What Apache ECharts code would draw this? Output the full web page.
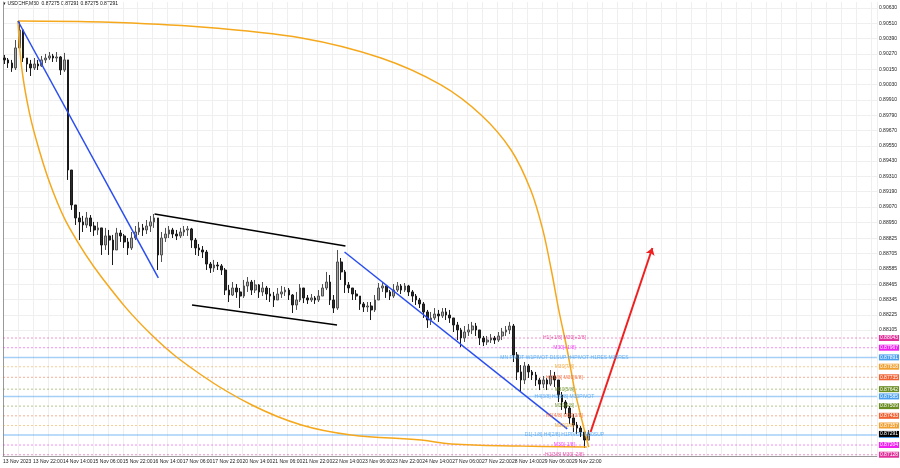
<!DOCTYPE html>
<html><head><meta charset="utf-8">
<script src="https://cdn.jsdelivr.net/npm/echarts@6/dist/echarts.min.js"></script>
<style>html,body{margin:0;padding:0;background:#fff}#c{width:900px;height:468px}</style>
</head><body><div id="c"></div><script>
// time labels every 32 M30 bars (16 hours)
const timeLabels = ['13 Nov 2023','13 Nov 22:00','14 Nov 14:00','15 Nov 06:00','15 Nov 22:00','16 Nov 14:00','17 Nov 06:00','17 Nov 22:00','20 Nov 14:00','21 Nov 06:00','21 Nov 22:00','22 Nov 14:00','23 Nov 06:00','23 Nov 22:00','24 Nov 14:00','27 Nov 06:00','27 Nov 22:00','28 Nov 14:00','29 Nov 06:00','29 Nov 22:00'];
const priceTicks = [0.90630,0.90510,0.90390,0.90270,0.90150,0.90030,0.89910,0.89790,0.89670,0.89550,0.89430,0.89310,0.89190,0.89070,0.88950,0.88825,0.88705,0.88585,0.88465,0.88345,0.88225,0.88105];

// 2-hour aggregated candles (4 M30 bars each)
const opens = [0.90238,0.90223,0.90199,0.90160,0.90317,0.90458,0.90238,0.90191,0.90160,0.90191,0.90176,0.90223,0.90238,0.90254,0.90238,0.90246,0.90144,0.90223,0.89360,0.89086,
0.88984,0.88953,0.88929,0.88984,0.88921,0.88890,0.88906,0.88772,0.88843,0.88811,0.88733,0.88866,0.88843,0.88796,0.88749,0.88827,0.88874,0.88906,0.88890,0.88921,
0.88953,0.88984,0.88694,0.88827,0.88858,0.88890,0.88858,0.88843,0.88874,0.88890,0.88898,0.88811,0.88749,0.88733,0.88717,0.88623,0.88592,0.88615,0.88608,0.88576,
0.88419,0.88380,0.88435,0.88404,0.88372,0.88451,0.88482,0.88419,0.88459,0.88404,0.88435,0.88388,0.88372,0.88341,0.88388,0.88404,0.88419,0.88380,0.88302,0.88341,
0.88435,0.88357,0.88341,0.88357,0.88341,0.88372,0.88435,0.88482,0.88341,0.88278,0.88639,0.88561,0.88459,0.88435,0.88388,0.88372,0.88310,0.88286,0.88294,0.88263,
0.88341,0.88435,0.88451,0.88404,0.88372,0.88419,0.88451,0.88419,0.88451,0.88404,0.88372,0.88341,0.88310,0.88247,0.88184,0.88200,0.88231,0.88216,0.88247,0.88223,
0.88200,0.88145,0.88106,0.88043,0.88090,0.88106,0.88137,0.88106,0.88043,0.88012,0.88027,0.88043,0.88027,0.88059,0.88090,0.88106,0.88137,0.87910,0.87777,0.87714,
0.87824,0.87777,0.87753,0.87714,0.87682,0.87714,0.87682,0.87745,0.87714,0.87596,0.87541,0.87494,0.87416,0.87361,0.87337,0.87306,0.87243];
const highs = [0.90262,0.90238,0.90223,0.90379,0.90528,0.90458,0.90238,0.90223,0.90238,0.90223,0.90254,0.90270,0.90285,0.90270,0.90285,0.90254,0.90278,0.90223,0.89360,0.89086,
0.89031,0.89000,0.89031,0.89007,0.88953,0.88953,0.88906,0.88906,0.88890,0.88851,0.88906,0.88890,0.88858,0.88827,0.88874,0.88921,0.88953,0.88937,0.88968,0.89000,
0.89015,0.88984,0.88874,0.88906,0.88921,0.88906,0.88890,0.88906,0.88921,0.88921,0.88906,0.88827,0.88780,0.88764,0.88733,0.88639,0.88655,0.88639,0.88623,0.88592,
0.88459,0.88482,0.88466,0.88435,0.88498,0.88521,0.88498,0.88498,0.88466,0.88482,0.88451,0.88435,0.88404,0.88435,0.88451,0.88443,0.88435,0.88388,0.88404,0.88466,
0.88419,0.88380,0.88388,0.88372,0.88419,0.88466,0.88561,0.88537,0.88380,0.88733,0.88670,0.88576,0.88482,0.88435,0.88419,0.88372,0.88325,0.88325,0.88325,0.88380,
0.88474,0.88482,0.88451,0.88419,0.88466,0.88482,0.88466,0.88474,0.88459,0.88419,0.88388,0.88357,0.88325,0.88263,0.88247,0.88278,0.88263,0.88278,0.88278,0.88263,
0.88200,0.88169,0.88122,0.88137,0.88153,0.88169,0.88161,0.88106,0.88059,0.88059,0.88074,0.88059,0.88090,0.88122,0.88137,0.88169,0.88153,0.87933,0.87831,0.87855,
0.87839,0.87792,0.87777,0.87730,0.87745,0.87730,0.87792,0.87777,0.87714,0.87620,0.87557,0.87510,0.87447,0.87385,0.87353,0.87322,0.87322];
const lows = [0.90191,0.90160,0.90129,0.90144,0.90317,0.90207,0.90129,0.90097,0.90144,0.90144,0.90168,0.90199,0.90223,0.90207,0.90207,0.90105,0.90129,0.89282,0.89047,0.88929,
0.88811,0.88874,0.88906,0.88874,0.88843,0.88851,0.88694,0.88733,0.88694,0.88615,0.88733,0.88796,0.88749,0.88694,0.88733,0.88811,0.88851,0.88843,0.88858,0.88874,
0.88906,0.88576,0.88639,0.88796,0.88827,0.88827,0.88811,0.88827,0.88843,0.88843,0.88749,0.88694,0.88686,0.88670,0.88576,0.88553,0.88561,0.88576,0.88537,0.88380,
0.88325,0.88372,0.88357,0.88278,0.88357,0.88404,0.88380,0.88396,0.88357,0.88372,0.88341,0.88325,0.88286,0.88341,0.88357,0.88372,0.88341,0.88239,0.88263,0.88325,
0.88317,0.88310,0.88325,0.88310,0.88325,0.88372,0.88419,0.88302,0.88239,0.88263,0.88498,0.88396,0.88396,0.88341,0.88341,0.88263,0.88247,0.88247,0.88184,0.88247,
0.88341,0.88404,0.88357,0.88341,0.88357,0.88404,0.88388,0.88404,0.88372,0.88325,0.88302,0.88278,0.88200,0.88122,0.88145,0.88184,0.88169,0.88200,0.88184,0.88161,
0.88090,0.88027,0.87972,0.88012,0.88059,0.88074,0.88059,0.87988,0.87980,0.87988,0.88004,0.87996,0.88012,0.88027,0.88059,0.88074,0.87855,0.87714,0.87620,0.87682,
0.87730,0.87714,0.87667,0.87635,0.87651,0.87635,0.87667,0.87659,0.87541,0.87479,0.87447,0.87369,0.87306,0.87290,0.87267,0.87181,0.87243];
const closes = [0.90223,0.90199,0.90160,0.90317,0.90458,0.90238,0.90191,0.90160,0.90191,0.90176,0.90223,0.90238,0.90254,0.90238,0.90246,0.90144,0.90223,0.89360,0.89086,0.88984,
0.88953,0.88929,0.88984,0.88921,0.88890,0.88906,0.88772,0.88843,0.88811,0.88733,0.88866,0.88843,0.88796,0.88749,0.88827,0.88874,0.88906,0.88890,0.88921,0.88953,
0.88984,0.88694,0.88827,0.88858,0.88890,0.88858,0.88843,0.88874,0.88890,0.88898,0.88811,0.88749,0.88733,0.88717,0.88623,0.88592,0.88615,0.88608,0.88576,0.88419,
0.88380,0.88435,0.88404,0.88372,0.88451,0.88482,0.88419,0.88459,0.88404,0.88435,0.88388,0.88372,0.88341,0.88388,0.88404,0.88419,0.88380,0.88302,0.88341,0.88435,
0.88357,0.88341,0.88357,0.88341,0.88372,0.88435,0.88482,0.88341,0.88278,0.88639,0.88561,0.88459,0.88435,0.88388,0.88372,0.88310,0.88286,0.88294,0.88263,0.88341,
0.88435,0.88451,0.88404,0.88372,0.88419,0.88451,0.88419,0.88451,0.88404,0.88372,0.88341,0.88310,0.88247,0.88184,0.88200,0.88231,0.88216,0.88247,0.88223,0.88200,
0.88145,0.88106,0.88043,0.88090,0.88106,0.88137,0.88106,0.88043,0.88012,0.88027,0.88043,0.88027,0.88059,0.88090,0.88106,0.88137,0.87910,0.87777,0.87714,0.87824,
0.87777,0.87753,0.87714,0.87682,0.87714,0.87682,0.87745,0.87714,0.87596,0.87541,0.87494,0.87416,0.87361,0.87337,0.87306,0.87243,0.87291];

// trend lines: [barIndex, price]
const blueLine1 = [[16, 0.90528], [166, 0.88514]];
const blueLine2 = [[365, 0.88717], [603, 0.87330]];
const blackUpper = [[162, 0.89015], [366, 0.88764]];
const blackLower = [[202, 0.88302], [357, 0.88145]];
const redArrow = [[628, 0.87306], [694, 0.88749]];
// Fibonacci arcs (sampled points)
const arcOuter = [[16,0.90528],[106,0.90520],[212,0.90481],[319,0.90395],[404,0.90238],[468,0.90027],[511,0.89791],[543,0.89517],[564,0.89203],[577,0.88889],[586,0.88576],[594,0.88262],[603,0.87949],[611,0.87635],[620,0.87361],[626,0.87188]];
const arcInner = [[16,0.90528],[20,0.90160],[28,0.89815],[38,0.89533],[52,0.89219],[71,0.88906],[106,0.88513],[159,0.88066],[212,0.87753],[266,0.87518],[319,0.87361],[372,0.87283],[447,0.87243],[479,0.87212],[554,0.87196],[624,0.87188]];

// Murrey levels
const levelPrices = [0.88043,0.87967,0.87891,0.87818,0.87735,0.87642,0.87585,0.87509,0.87433,0.87357,0.87283,0.87204,0.87128];
const levelNames = ['H1[+1/8] M30[+2/8]','M30[+1/8]','MN PIVOT W1PIVOT D1SUP H4PIVOT H1RES M30RES','M30[7/8]','H1[6/8] M30[6/8]','M30[5/8]','H4[3/8] H1[3/8] M30PIVOT','M30[4/8]','H1[4/8] M30[3/8]','M30[2/8]','D1[-1/8] H4[2/8] H1PIVOT M30SUP','M30[-1/8]','H1[3/8] M30[-2/8]'];
const levelColors = ['#e0309a','#f020f0','#4aa0f0','#f0a030','#f06030','#6b8e23','#4aa0f0','#6b8e23','#f06030','#f0a030','#4aa0f0','#f020f0','#e0309a'];
const levelSolid = [false,false,true,false,false,false,true,false,false,false,true,false,false];
const currentPrice = 0.87291;
const textBarIndex = 600;
const X_MAX = 934;

const FONT = 'Liberation Sans';
const candleData = opens.map((o, k) => [4 * k + 1.5, o, closes[k], lows[k], highs[k]]);

const lineSeries = (data, color, width, extra) => Object.assign({
  type: 'line', data, symbol: 'none', silent: true, animation: false,
  lineStyle: { color, width }, z: 5
}, extra || {});

const boxLabel = (text, bg) => ({
  show: true, distance: 2, formatter: text, color: '#fff', backgroundColor: bg,
  padding: [0, 1], fontSize: 5, fontFamily: FONT, lineHeight: 6
});

const levelSeries = levelPrices.map((p, i) => ({
  type: 'line', data: [[0, p], [X_MAX, p]], symbol: 'none', silent: true, z: 2,
  lineStyle: { color: levelColors[i], width: levelSolid[i] ? 1.5 : 1, type: levelSolid[i] ? 'solid' : [2, 2], opacity: levelSolid[i] ? 0.5 : 0.5 },
  endLabel: boxLabel(p.toFixed(5), levelColors[i])
}));
levelSeries.push({
  type: 'line', data: [[0, currentPrice], [X_MAX, currentPrice]], symbol: 'none', silent: true, z: 2,
  lineStyle: { opacity: 0 },
  endLabel: boxLabel(currentPrice.toFixed(5), '#000')
});

const levelTexts = levelPrices.map((p, i) => ({
  value: [textBarIndex, p],
  label: { show: true, position: 'inside', formatter: levelNames[i], color: levelColors[i], fontSize: 5, fontFamily: FONT }
}));

const chart = echarts.init(document.getElementById('c'), null, { renderer: 'canvas' });
chart.setOption({
  animation: false,
  backgroundColor: '#fff',
  grid: { left: 1, right: 23, top: 2, bottom: 12 },
  xAxis: {
    type: 'value', min: 0, max: X_MAX, interval: 16,
    axisLine: { show: true, lineStyle: { color: '#999' } },
    axisTick: { show: false },
    axisLabel: { align: 'left', margin: 3, fontSize: 5, color: '#222', fontFamily: FONT, showMaxLabel: false, interval: 0,
      formatter: v => { if (v % 32 !== 0) return ''; return timeLabels[v / 32] || ''; } },
    splitLine: { show: true, lineStyle: { color: '#efefef', width: 1 } }
  },
  yAxis: {
    type: 'value', position: 'right', min: 0.87118, max: 0.90677,
    axisLine: { show: true, lineStyle: { color: '#999' } },
    axisTick: { show: false, customValues: priceTicks },
    axisLabel: { customValues: priceTicks, margin: 2, fontSize: 5, color: '#222', fontFamily: FONT, formatter: v => v.toFixed(5) },
    splitLine: { show: true, lineStyle: { color: '#efefef', width: 1 } }
  },
  graphic: [{ type: 'text', left: 3, top: 1, style: { text: '\u25BE USDCHF,M30  0.87275 0.87291 0.87275 0.87291', fontSize: 5, fill: '#111', fontFamily: FONT } }],
  series: [
    ...levelSeries,
    { type: 'candlestick', data: candleData, encode: { x: 0, y: [1, 2, 3, 4] }, barWidth: 2.2, z: 3,
      itemStyle: { color: '#a8a8a8', color0: '#2a2a2a', borderColor: '#505050', borderColor0: '#1a1a1a', borderWidth: 1 } },
    lineSeries(arcOuter, '#f5a81c', 1.5, { smooth: 0.3 }),
    lineSeries(arcInner, '#f5a81c', 1.5, { smooth: 0.4 }),
    lineSeries(blueLine1, '#2a4df0', 1.5),
    lineSeries(blueLine2, '#2a4df0', 1.5),
    lineSeries(blackUpper, '#000', 1.5),
    lineSeries(blackLower, '#000', 1.5),
    { type: 'line', data: [], symbol: 'none', z: 6,
      markLine: { silent: true, symbol: ['none', 'arrow'], symbolSize: 7, animation: false,
        lineStyle: { color: '#f02020', width: 2, type: 'solid' }, label: { show: false },
        data: [[{ coord: redArrow[0] }, { coord: redArrow[1] }]] } },
    { type: 'scatter', data: levelTexts, symbolSize: 0, silent: true, z: 7 }
  ]
});
</script></body></html>
